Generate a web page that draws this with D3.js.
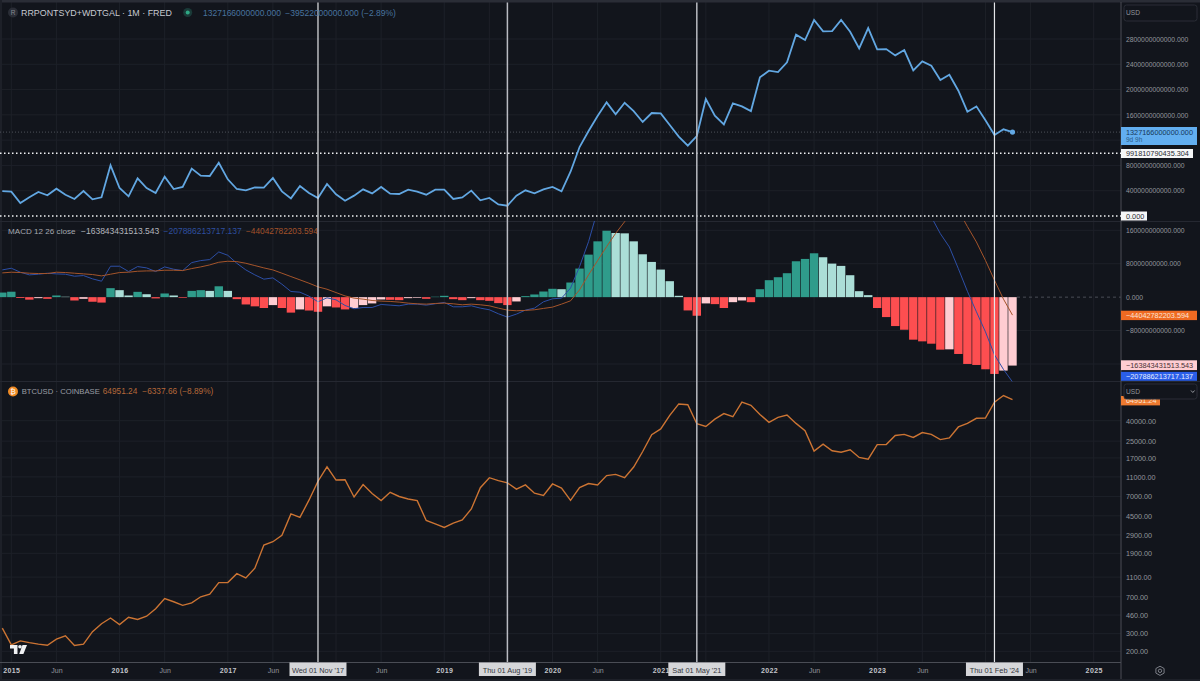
<!DOCTYPE html>
<html>
<head>
<meta charset="utf-8">
<title>RRPONTSYD+WDTGAL vs BTCUSD</title>
<script src="https://cdn.jsdelivr.net/npm/d3@7"></script>
<style>
  html, body { margin: 0; padding: 0; background: #12151c; overflow: hidden; }
  text { font-family: "Liberation Sans", Arial, sans-serif; }
</style>
</head>
<body>
<svg id="chart" width="1200" height="681"></svg>
<script>
// monthly data, index 0 = Dec 2014, index 112 = Apr 2024
// RRPONTSYD+WDTGAL close, in billions
const liquidity = [
  395, 385, 206, 295, 380, 327, 432, 337, 269, 395, 264, 295, 801, 443, 311, 596, 443, 364, 622, 427,
  459, 749, 638, 633, 843, 580, 427, 406, 453, 448, 601, 390, 279, 474, 364, 285, 506, 343, 242, 322,
  422, 358, 459, 353, 348, 416, 385, 337, 416, 416, 269, 295, 401, 248, 285, 184, 163, 322, 406, 358,
  422, 459, 390, 701, 1091, 1344, 1581, 1798, 1608, 1792, 1660, 1487, 1629, 1624, 1439, 1255, 1112, 1265, 1850, 1587,
  1450, 1782, 1734, 1660, 2193, 2298, 2277, 2430, 2868, 2783, 3100, 2920, 2926, 3100, 2915, 2652, 2973, 2636, 2641, 2541,
  2625, 2304, 2446, 2377, 2151, 2235, 1982, 1650, 1734, 1513, 1281, 1371, 1327
];
// MACD histogram, in billions
const macdHist = [
  11, 13, -2, -6, -2.4, -4, 4, 1, -8, -4, -11, -13, 21.5, 16.7, 4, 12.7, 7, -3, 8.8, 4,
  -1.6, 15, 16.7, 15, 26, 15, -4.8, -17.5, -22, -26, -19, -26, -37, -29.4, -32, -35, -22, -24.7, -29.4, -26,
  -19, -15, -5.6, -6.4, -7.2, -2.4, -1.6, -4, 1, 3.2, -4.8, -7.2, -2.4, -7.2, -8.8, -14.3, -19, -10.3, 2.4, 6.4,
  13.5, 20, 19, 35, 68.4, 101.8, 133.6, 159, 153.5, 152.7, 133.6, 102.6, 84.3, 66, 38.2, 3.2, -31.8, -44.5, -15, -16.7,
  -26, -12, -8, -12, 19, 40.6, 47.7, 57.3, 85.9, 91.5, 105, 95.5, 80.3, 74.8, 52.5, 14.3, 4.8, -26, -47.7, -69.2,
  -78, -101.8, -105.8, -111.4, -125.7, -124.9, -136, -159.9, -162.3, -172.6, -183.8, -175.8, -163.8
];
// MACD line, in billions (the part above the pane is estimated)
const macdLine = [
  65.2, 69.2, 59.7, 53.3, 54.9, 57.3, 55.7, 54.9, 50.1, 51.7, 43.8, 38.2, 74, 74, 61.3, 73.2, 70, 61.3, 72.4, 66.8,
  63.6, 82.7, 87.5, 89.9, 108.2, 100.2, 81.1, 65.2, 53.3, 43, 46.1, 31, 13.5, 11.9, 2.4, -11.1, -1.6, -6.4, -19.9, -27.8,
  -24.7, -24.7, -17.5, -19.1, -20.7, -16.7, -16.7, -19.1, -15.9, -12.7, -23.1, -23.1, -20.7, -26.3, -30.2, -39.8, -47.7, -40.6, -31, -26.3,
  -11.1, -4, -2.4, 21.5, 73.2, 132.8, 208.4, 285, 340, 390, 425, 445, 455, 460, 450, 420, 370, 320, 305, 290,
  265, 260, 255, 240, 260, 290, 310, 335, 385, 415, 450, 465, 465, 470, 450, 400, 430, 400, 375, 345,
  310, 270, 230, 192, 152, 120, 68, 14, -35, -83, -138, -173, -203
];
// signal line, in billions (the part above the pane is estimated)
const signalLine = [
  58, 59.7, 58.9, 57.3, 56.5, 56.5, 59.7, 58.9, 57.3, 55.7, 54.1, 50.9, 54.9, 58.9, 59.7, 62, 62.8, 62.8, 64.4, 64.4,
  63.6, 68.4, 72.4, 77.2, 83.5, 85.9, 85.1, 81.1, 75.6, 70, 65.2, 57.3, 49.3, 41.4, 33.4, 24.7, 19, 11, 3, -2.4,
  -4.8, -8, -9.5, -10.3, -11.9, -14.3, -15.9, -16.7, -15.1, -14.3, -15.9, -18.3, -16.7, -18.3, -20.7, -26.3, -31, -32.6, -31.8, -30.2,
  -27, -23.9, -16.7, -8.8, 17.5, 53.3, 87.5, 120.9, 152.7, 180.6, 215, 250, 280, 305, 330, 350, 365, 370, 365, 360,
  350, 345, 335, 330, 325, 325, 330, 335, 345, 355, 365, 380, 390, 400, 405, 400, 395, 385, 370, 350,
  335, 320, 295, 270, 250, 230, 208, 169, 132, 88, 40.6, -4.8, -43
];
// BTCUSD monthly close
const btc = [
  340, 232, 254, 244, 236, 230, 264, 285, 229, 236, 314, 377, 430, 369, 437, 416, 448, 531, 673, 624,
  575, 609, 700, 742, 968, 970, 1190, 1080, 1350, 2300, 2480, 2870, 4700, 4340, 6440, 9950, 13880, 10230, 10300, 6930,
  9240, 7500, 6390, 7730, 7010, 6625, 6370, 4040, 3740, 3440, 3810, 4100, 5270, 8570, 10800, 10080, 9600, 8300, 9150, 7560,
  7190, 9350, 8520, 6410, 8620, 9450, 9140, 11340, 11650, 10780, 13800, 19700, 29000, 33100, 45200, 58800, 57700, 37300, 35000, 41500,
  47100, 43800, 61300, 56900, 46200, 38500, 43200, 45500, 37600, 31800, 19900, 23300, 20050, 19400, 20500, 17200, 16530, 23100, 23130, 28470,
  29230, 27200, 30470, 29230, 25930, 26960, 34650, 37700, 42260, 42580, 61130, 71290, 64951
];

// every tick has a grid line, the ones under a date box have no label
const timeGridIndex = [1, 6, 13, 18, 25, 30, 37, 42, 49, 54, 61, 66, 73, 78, 85, 90, 97, 102, 109, 114, 121];
const timeTickIndex = [1, 6, 13, 18, 25, 30, 42, 49, 61, 66, 73, 85, 90, 97, 102, 114, 121];
const timeTickLabels = ["2015", "Jun", "2016", "Jun", "2017", "Jun", "Jun", "2019", "2020", "Jun", "2021", "2022", "Jun", "2023", "Jun", "Jun", "2025"];
const markerIndex = [35, 56, 77, 110];
const markerLabels = ["Wed 01 Nov '17", "Thu 01 Aug '19", "Sat 01 May '21", "Thu 01 Feb '24"];

const liquidityTicks = [400, 800, 1200, 1600, 2000, 2400, 2800];
const liquidityLabelTicks = [400, 800, 1600, 2000, 2400, 2800];
const macdTicks = [-160, -80, 0, 80, 160];
const macdLabelTicks = [-80, 0, 80, 160];
const btcTicks = [200, 300, 460, 700, 1100, 1900, 2900, 4500, 7000, 11000, 17000, 25000, 40000];

const bg = "#12151c", gridColor = "#1d2028", axisLine = "#4a4d55", axisText = "#93969d";
const axisRightEdge = 1121;

const x = d3.scaleLinear().domain([0, 112]).range([2.3, 1012.5]);
const yTop = d3.scaleLinear().domain([0, 2800]).range([216, 39]);
const yMacd = d3.scaleLinear().domain([-160, 160]).range([364, 230.3]);
const yBtc = d3.scaleLog().domain([200, 40000]).range([651.3, 420.7]);

const svg = d3.select("#chart");
svg.append("rect").attr("width", 1200).attr("height", 681).attr("fill", bg);

const defs = svg.append("defs");
const addClip = (id, y0, y1) => defs.append("clipPath").attr("id", id).append("rect")
  .attr("x", 0).attr("y", y0).attr("width", axisRightEdge).attr("height", y1 - y0);
addClip("clip-top", 2, 221);
addClip("clip-macd", 221, 381.5);
addClip("clip-btc", 381.5, 662);

// grid lines
const grid = svg.append("g").attr("stroke", gridColor).attr("stroke-width", 1);
grid.selectAll(".vgrid").data(timeGridIndex).enter().append("line")
  .attr("x1", d => x(d)).attr("x2", d => x(d)).attr("y1", 2).attr("y2", 662);
const hGrid = (values, scale) => grid.append("g").selectAll("line").data(values).enter().append("line")
  .attr("x1", 0).attr("x2", axisRightEdge).attr("y1", d => scale(d)).attr("y2", d => scale(d));
hGrid(liquidityTicks, yTop);
hGrid(macdTicks.filter(d => d !== 0), yMacd);
hGrid(btcTicks, yBtc);

// pane separators and frame
const frame = svg.append("g");
frame.append("rect").attr("width", 1200).attr("height", 2.5).attr("fill", "#2a2d36");
frame.append("rect").attr("width", 2).attr("height", 681).attr("fill", "#1d2028");
frame.append("rect").attr("y", 679).attr("width", 1200).attr("height", 2).attr("fill", "#1d2028");
frame.selectAll(".sep").data([221.5, 381.5]).enter().append("line")
  .attr("x1", 0).attr("x2", 1200).attr("y1", d => d).attr("y2", d => d).attr("stroke", "#252831");
frame.append("line").attr("x1", axisRightEdge).attr("x2", axisRightEdge).attr("y1", 2).attr("y2", 679)
  .attr("stroke", axisLine).attr("stroke-width", 1);
frame.append("line").attr("x1", 0).attr("x2", axisRightEdge).attr("y1", 662.5).attr("y2", 662.5)
  .attr("stroke", axisLine).attr("stroke-width", 1);

// top pane
const topPane = svg.append("g").attr("clip-path", "url(#clip-top)");
[[1327.166, "#5c5f68", "1 2"], [991.81, "#f2f3f5", "1.5 2.5"], [0, "#f2f3f5", "1.5 2.5"]].forEach(([v, c, dash]) => {
  topPane.append("line").attr("x1", 0).attr("x2", axisRightEdge)
    .attr("y1", yTop(v)).attr("y2", yTop(v))
    .attr("stroke", c).attr("stroke-width", v === 1327.166 ? 0.8 : 1.4).attr("stroke-dasharray", dash);
});
topPane.append("path").datum(liquidity)
  .attr("fill", "none").attr("stroke", "#62a7e2").attr("stroke-width", 1.8).attr("stroke-linejoin", "miter")
  .attr("d", d3.line().x((d, i) => x(i)).y(d => yTop(d)));
topPane.append("circle").attr("cx", x(112)).attr("cy", yTop(1327.166)).attr("r", 2.6).attr("fill", "#62a7e2");

// MACD pane
const macdPane = svg.append("g").attr("clip-path", "url(#clip-macd)");
macdPane.append("line").attr("x1", 1017).attr("x2", axisRightEdge)
  .attr("y1", yMacd(0)).attr("y2", yMacd(0))
  .attr("stroke", "#4a4d55").attr("stroke-dasharray", "3 3");
const histColor = (d, i) => {
  const rising = i === 0 || d > macdHist[i - 1];
  if (d >= 0) return rising ? "#2f9c8b" : "#abded7";
  return rising ? "#ffcdd2" : "#fd4e50";
};
macdPane.selectAll(".bar").data(macdHist).enter().append("rect")
  .attr("class", "bar")
  .attr("x", (d, i) => x(i) - 4.2)
  .attr("width", 8.4)
  .attr("y", d => Math.min(yMacd(d), yMacd(0)))
  .attr("height", d => Math.abs(yMacd(d) - yMacd(0)))
  .attr("fill", histColor);
const macdPath = d3.line().x((d, i) => x(i)).y(d => yMacd(d));
macdPane.append("path").datum(macdLine).attr("fill", "none").attr("stroke", "#2d4fa6").attr("stroke-width", 1).attr("d", macdPath);
macdPane.append("path").datum(signalLine).attr("fill", "none").attr("stroke", "#a5552b").attr("stroke-width", 1).attr("d", macdPath);

// BTC pane
const btcPane = svg.append("g").attr("clip-path", "url(#clip-btc)");
btcPane.append("path").datum(btc)
  .attr("fill", "none").attr("stroke", "#cc7433").attr("stroke-width", 1.4)
  .attr("d", d3.line().x((d, i) => x(i)).y(d => yBtc(d)));

// tradingview logo
const logo = svg.append("g").attr("fill", "#f0f1f3");
logo.append("path").attr("d", "M10 645h7.5v9h-3.6v-5.6H10z");
logo.append("circle").attr("cx", 20).attr("cy", 646.8).attr("r", 1.8);
logo.append("path").attr("d", "M22.5 645H27l-3.6 9h-4.2z");

// right axes
const rightAxis = (scale, values, fmt, size) => {
  const g = svg.append("g").attr("transform", `translate(${axisRightEdge},0)`)
    .call(d3.axisRight(scale).tickValues(values).tickSize(0).tickPadding(5).tickFormat(fmt));
  g.select(".domain").remove();
  g.selectAll("text").attr("fill", axisText).attr("font-size", size);
  return g;
};
const fmt3 = d3.format(".3f");
rightAxis(yTop, liquidityLabelTicks, d => fmt3(d * 1e9), 6.8);
rightAxis(yMacd, macdLabelTicks, d => fmt3(d * 1e9), 6.8);
rightAxis(yBtc, btcTicks, d3.format(".2f"), 7.2);

// time axis
const isMonth = d => timeTickLabels[timeTickIndex.indexOf(d)] === "Jun";
const timeAxis = svg.append("g").attr("transform", "translate(0,662)")
  .call(d3.axisBottom(x).tickValues(timeTickIndex).tickSize(0).tickPadding(6)
    .tickFormat(d => timeTickLabels[timeTickIndex.indexOf(d)]));
timeAxis.select(".domain").remove();
timeAxis.selectAll("text")
  .attr("font-size", 7)
  .attr("fill", d => isMonth(d) ? axisText : "#c3c5cb")
  .attr("font-weight", d => isMonth(d) ? 400 : 700)
  .attr("letter-spacing", d => isMonth(d) ? 0 : 0.4);

// vertical marker lines
const markers = svg.append("g");
markers.selectAll("line").data(markerIndex).enter().append("line")
  .attr("x1", d => x(d)).attr("x2", d => x(d)).attr("y1", 2.5).attr("y2", 662)
  .attr("stroke", (d, i) => (i === 1 || i === 2) ? "#b9bbc2" : "#e4e5e8")
  .attr("stroke-width", (d, i) => (i === 1 || i === 2) ? 1.5 : 1.2);
const markerBoxes = markers.selectAll("g").data(markerIndex).enter().append("g")
  .attr("transform", d => `translate(${x(d)},662)`);
markerBoxes.append("rect").attr("x", -28.5).attr("y", 0.5).attr("width", 57).attr("height", 13.5).attr("fill", "#d5d6d9");
markerBoxes.append("text").attr("text-anchor", "middle").attr("y", 11)
  .attr("font-size", 7.4).attr("fill", "#33353b")
  .text((d, i) => markerLabels[i]);

// price labels on the axis
const priceLabel = (y0, h, w, fill, color, label) => {
  svg.append("rect").attr("x", axisRightEdge).attr("y", y0).attr("width", w).attr("height", h).attr("fill", fill);
  svg.append("text").attr("x", axisRightEdge + 5).attr("y", y0 + h / 2 + 2.5).attr("font-size", 7.3).attr("fill", color).text(label);
};
svg.append("rect").attr("x", axisRightEdge).attr("y", 127).attr("width", 76).attr("height", 18).attr("fill", "#62aef0");
svg.append("text").attr("x", axisRightEdge + 5).attr("y", 134.5).attr("font-size", 7.3).attr("fill", "#17385a").text("1327166000000.000");
svg.append("text").attr("x", axisRightEdge + 5).attr("y", 142).attr("font-size", 6.5).attr("fill", "#2a5a88").text("9d 9h");
priceLabel(149, 9, 72, "#f5f6f7", "#2a2c33", "991810790435.304");
priceLabel(211.5, 9, 26, "#f5f6f7", "#2a2c33", "0.000");
priceLabel(310.7, 9.4, 76, "#ef6a22", "#fbe3d6", "\u221244042782203.594");
priceLabel(360.3, 9.8, 76, "#ffcdd2", "#4a3236", "\u2212163843431513.543");
priceLabel(371.8, 9, 76, "#2a5ee8", "#e6ecfd", "\u2212207886213717.137");
priceLabel(396, 9.4, 39, "#ee7a30", "#f9e4d4", "64951.24");

// currency selectors
const usdBox = (y0, h, chevron) => {
  svg.append("rect").attr("x", 1124).attr("y", y0).attr("width", 73).attr("height", h).attr("rx", 2.5)
    .attr("fill", bg).attr("stroke", "#2a2d36");
  svg.append("text").attr("x", 1126).attr("y", y0 + h / 2 + 2.4).attr("font-size", 6.6).attr("fill", axisText).text("USD");
  if (chevron) svg.append("path").attr("d", `M${1191} ${y0 + h / 2 - 1}l1.8 2 1.8-2`).attr("fill", "none").attr("stroke", axisText);
};
usdBox(5, 16, false);
usdBox(384, 15, true);

// settings icon
svg.append("path").attr("d", "M1160 666.2l4.1 2.3v4.6l-4.1 2.3-4.1-2.3v-4.6z").attr("fill", "none").attr("stroke", "#868991").attr("stroke-width", 0.9);
svg.append("circle").attr("cx", 1160).attr("cy", 670.8).attr("r", 1.7).attr("fill", "none").attr("stroke", "#868991").attr("stroke-width", 0.9);

// legends
const legendText = (px, py, size, color, label) => svg.append("text").attr("x", px).attr("y", py)
  .attr("font-size", size).attr("fill", color).text(label);

svg.append("circle").attr("cx", 13).attr("cy", 12.5).attr("r", 5).attr("fill", "#2a2d36");
svg.append("text").attr("x", 13).attr("y", 15).attr("text-anchor", "middle").attr("font-size", 6.5).attr("fill", "#868991").text("R");
legendText(21, 15.7, 8.9, "#c8cad1", "RRPONTSYD+WDTGAL \u00b7 1M \u00b7 FRED");
svg.append("circle").attr("cx", 187.7).attr("cy", 12.5).attr("r", 4.5).attr("fill", "#1a3a38");
svg.append("circle").attr("cx", 187.7).attr("cy", 12.5).attr("r", 2).attr("fill", "#2fa884");
legendText(203, 15.5, 8.5, "#48739f", "1327166000000.000");
legendText(285.3, 15.5, 8.5, "#48739f", "\u221239522000000.000 (\u22122.89%)");

legendText(8, 233.9, 8.1, "#a5a8b0", "MACD 12 26 close");
legendText(81, 233.9, 8.5, "#b3b5bc", "\u2212163843431513.543");
legendText(163.5, 233.9, 8.5, "#2e4f9f", "\u2212207886213717.137");
legendText(246, 233.9, 8.3, "#a3522a", "\u221244042782203.594");

svg.append("circle").attr("cx", 13).attr("cy", 391.5).attr("r", 5).attr("fill", "#ee8a25");
svg.append("text").attr("x", 13).attr("y", 394.2).attr("text-anchor", "middle").attr("font-size", 7.5).attr("fill", "#fff").text("\u20bf");
legendText(21.7, 394.3, 7.7, "#9a9da5", "BTCUSD \u00b7 COINBASE");
legendText(102.7, 394.3, 8.3, "#b5683a", "64951.24");
legendText(142.3, 394.3, 8.3, "#b5683a", "\u22126337.66 (\u22128.89%)");
</script>
</body>
</html>
